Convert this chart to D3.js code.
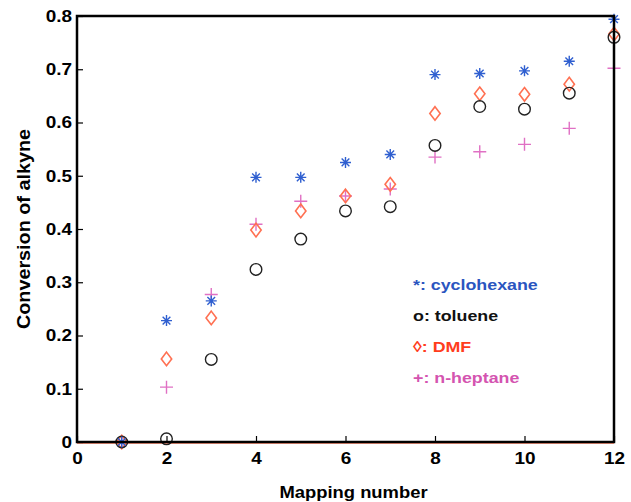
<!DOCTYPE html>
<html>
<head>
<meta charset="utf-8">
<script src="https://cdn.jsdelivr.net/npm/d3@7"></script>
<style>
  body { margin: 0; background: #fff; }
  svg text { font-family: "Liberation Sans", Arial, sans-serif; font-weight: bold; }
</style>
</head>
<body>
<svg id="chart" width="631" height="502"></svg>
<script>
// Mapping number (x) for every run
const mapping = [1, 2, 3, 4, 5, 6, 7, 8, 9, 10, 11, 12];

// Conversion of alkyne per solvent
const cyclohexane = [0, 0.228, 0.265, 0.497, 0.497, 0.525, 0.540, 0.690, 0.692, 0.697, 0.715, 0.794];
const toluene     = [0, 0.006, 0.155, 0.324, 0.381, 0.434, 0.442, 0.557, 0.630, 0.625, 0.655, 0.760];
const dmf         = [0, 0.156, 0.233, 0.398, 0.434, 0.462, 0.484, 0.617, 0.654, 0.653, 0.672, 0.766];
const nHeptane    = [0, 0.103, 0.277, 0.409, 0.452, 0.462, 0.475, 0.535, 0.545, 0.559, 0.589, 0.702];

const xTicks = [0, 2, 4, 6, 8, 10, 12];
const yTicks = [0, 0.1, 0.2, 0.3, 0.4, 0.5, 0.6, 0.7, 0.8];
const legendLabels = ["*: cyclohexane", "o: toluene", "\u25CA: DMF", "+: n-heptane"];

const series = [
  { name: "cyclohexane", values: cyclohexane, marker: "star",    color: "#2f5fd0", text: "#2a55c0" },
  { name: "toluene",     values: toluene,     marker: "circle",  color: "#222222", text: "#111111" },
  { name: "DMF",         values: dmf,         marker: "diamond", color: "#ff7052", text: "#ff3d1c" },
  { name: "n-heptane",   values: nHeptane,    marker: "plus",    color: "#e070c4", text: "#d454b0" }
];

const svg = d3.select("#chart");
const margin = { left: 77, right: 17, top: 16, bottom: 60 };
const W = 631, H = 502;
const x = d3.scaleLinear().domain([0, 12]).range([margin.left, W - margin.right]);
const y = d3.scaleLinear().domain([0, 0.8]).range([H - margin.bottom, margin.top]);
const stretch = 1.15; // wide bold lettering

// zero baseline in light coral just under the axis
svg.append("line")
  .attr("x1", x(0)).attr("x2", x(12))
  .attr("y1", y(0) + 1.5).attr("y2", y(0) + 1.5)
  .attr("stroke", "#ff9a80").attr("stroke-width", 1);

// markers
function drawMarker(g, kind, color) {
  const s = 5.5;
  if (kind === "star") {
    g.append("path")
      .attr("d", `M${-s},0H${s}M0,${-s}V${s}M${-s*0.7},${-s*0.7}L${s*0.7},${s*0.7}M${-s*0.7},${s*0.7}L${s*0.7},${-s*0.7}`)
      .attr("stroke", color).attr("stroke-width", 1.4).attr("fill", "none");
  } else if (kind === "circle") {
    g.append("circle").attr("r", 5.8)
      .attr("stroke", color).attr("stroke-width", 1.4).attr("fill", "none");
  } else if (kind === "diamond") {
    g.append("path")
      .attr("d", `M0,-6.8L5.2,0L0,6.8L-5.2,0Z`)
      .attr("stroke", color).attr("stroke-width", 1.6).attr("fill", "none");
  } else if (kind === "plus") {
    g.append("path")
      .attr("d", `M-6.5,0H6.5M0,-6.5V6.5`)
      .attr("stroke", color).attr("stroke-width", 1.4).attr("fill", "none");
  }
}

// draw order: n-heptane, DMF, toluene, cyclohexane on top
const drawOrder = [series[3], series[2], series[1], series[0]];
drawOrder.forEach(s => {
  const g = svg.append("g").attr("class", "series-" + s.name);
  s.values.forEach((v, i) => {
    const m = g.append("g").attr("transform", `translate(${x(mapping[i])},${y(v)})`);
    drawMarker(m, s.marker, s.color);
  });
});

// axes
const xAxis = d3.axisBottom(x).tickValues(xTicks).tickSizeInner(-6).tickSizeOuter(0).tickPadding(10)
  .tickFormat(d3.format("d"));
const yAxis = d3.axisLeft(y).tickValues(yTicks).tickSizeInner(-6).tickSizeOuter(0).tickPadding(5)
  .tickFormat(d => d === 0 ? "0" : d3.format(".1f")(d));

const gx = svg.append("g").attr("transform", `translate(0,${y(0)})`).call(xAxis);
const gy = svg.append("g").attr("transform", `translate(${x(0)},0)`).call(yAxis);
[gx, gy].forEach(g => {
  g.select(".domain").remove();
  g.selectAll(".tick line").attr("stroke", "#000").attr("stroke-width", 1.2);
  g.selectAll(".tick text").attr("fill", "#000").style("font-size", "16.5px");
});
gx.selectAll(".tick text").attr("transform", `scale(${stretch},1)`);
gy.selectAll(".tick text").attr("x", -5 / stretch).attr("transform", `scale(${stretch},1)`);

// box frame
svg.append("rect")
  .attr("x", x(0)).attr("y", y(0.8))
  .attr("width", x(12) - x(0)).attr("height", y(0) - y(0.8))
  .attr("fill", "none").attr("stroke", "#000").attr("stroke-width", 2.5);

// axis titles
svg.append("text")
  .attr("transform", `translate(${(x(0) + x(12)) / 2 + 8},498) scale(${stretch},1)`)
  .attr("text-anchor", "middle").style("font-size", "16px").attr("fill", "#000")
  .text("Mapping number");
svg.append("text")
  .attr("transform", `translate(30,${(y(0) + y(0.8)) / 2}) rotate(-90) scale(1.1,1)`)
  .attr("text-anchor", "middle").style("font-size", "18px").attr("fill", "#000")
  .text("Conversion of alkyne");

// legend text
const legend = svg.append("g");
legendLabels.forEach((lbl, i) => {
  legend.append("text")
    .attr("transform", `translate(413,${290 + i * 31}) scale(${stretch},1)`)
    .style("font-size", "15.5px")
    .attr("fill", series[i].text)
    .text(lbl);
});
</script>
</body>
</html>
